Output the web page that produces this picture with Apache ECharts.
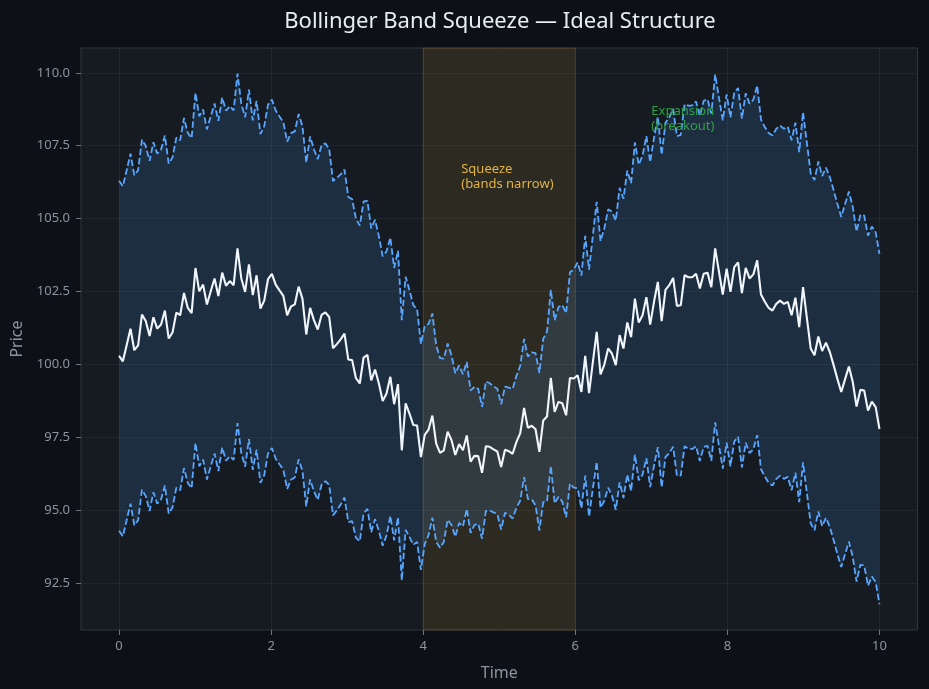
<!DOCTYPE html>
<html>
<head>
<meta charset="utf-8">
<title>Bollinger Band Squeeze</title>
<script src="https://cdn.jsdelivr.net/npm/echarts@6.0.0/dist/echarts.min.js"></script>
<style>
  html, body { margin: 0; padding: 0; background: #0d1117; }
  #main { width: 929px; height: 689px; }
</style>
</head>
<body>
<div id="main"></div>
<script>
// middle band (moving average / price), 200 samples over t = 0..10
var mid = [
  100.30, 100.11, 100.66, 101.23, 100.49, 100.66, 101.71, 101.49, 100.98, 101.62,
  101.23, 101.37, 101.85, 100.89, 101.10, 101.78, 101.69, 102.45, 101.94, 101.76,
  103.31, 102.51, 102.74, 102.06, 102.51, 102.95, 102.35, 103.15, 102.70, 102.86,
  102.72, 103.98, 102.95, 102.49, 103.43, 102.38, 103.06, 101.92, 102.19, 102.93,
  103.11, 102.74, 102.54, 102.35, 101.69, 101.99, 102.06, 102.67, 102.26, 101.03,
  101.94, 101.52, 101.20, 101.70, 101.79, 101.63, 100.56, 100.70, 100.86, 101.06,
  100.17, 100.15, 99.53, 99.35, 100.24, 100.33, 99.46, 99.83, 99.35, 98.75,
  99.01, 99.58, 98.64, 99.33, 97.06, 98.67, 98.32, 97.93, 97.91, 96.83,
  97.59, 97.77, 98.25, 97.29, 96.97, 97.06, 97.70, 97.41, 96.90, 97.27,
  97.06, 97.57, 96.67, 96.87, 96.86, 96.29, 97.20, 97.18, 97.09, 97.02,
  96.49, 97.08, 97.03, 96.94, 97.35, 97.65, 98.51, 97.83, 97.90, 97.78,
  97.01, 98.08, 98.22, 99.54, 98.38, 98.72, 98.67, 98.26, 99.54, 99.52,
  99.63, 99.06, 100.30, 99.02, 100.09, 101.12, 99.66, 100.00, 100.55, 100.37,
  99.98, 101.01, 100.55, 101.44, 100.94, 102.26, 101.44, 101.69, 102.31, 101.37,
  102.15, 102.83, 101.49, 102.56, 102.72, 102.97, 102.01, 102.03, 103.06, 102.99,
  102.99, 103.11, 102.61, 103.11, 103.15, 102.65, 103.98, 103.18, 102.40, 103.29,
  102.49, 103.34, 103.50, 102.45, 103.31, 102.95, 103.09, 103.57, 102.40, 102.15,
  101.94, 101.85, 102.08, 102.19, 102.08, 102.15, 101.69, 102.29, 101.28, 102.65,
  101.60, 100.55, 100.32, 100.96, 100.46, 100.75, 100.43, 99.98, 99.50, 99.06,
  99.50, 99.93, 99.41, 98.56, 99.13, 99.11, 98.42, 98.73, 98.54, 97.79
];

// distance from the middle line to each dashed band
var halfWidth = [
  6.00, 6.00, 6.00, 6.00, 6.00, 6.00, 6.00, 6.00, 6.00, 6.00,
  6.00, 6.00, 6.00, 6.00, 6.00, 6.00, 6.00, 6.00, 6.00, 6.00,
  6.00, 6.00, 6.00, 6.00, 6.00, 6.00, 6.00, 6.00, 6.00, 6.00,
  5.99, 5.99, 5.99, 5.99, 5.99, 5.99, 5.98, 5.98, 5.98, 5.98,
  5.97, 5.97, 5.96, 5.96, 5.95, 5.94, 5.93, 5.92, 5.91, 5.89,
  5.88, 5.86, 5.84, 5.82, 5.79, 5.76, 5.73, 5.70, 5.66, 5.62,
  5.57, 5.52, 5.47, 5.41, 5.35, 5.28, 5.21, 5.13, 5.05, 4.96,
  4.87, 4.77, 4.67, 4.57, 4.46, 4.34, 4.23, 4.11, 3.99, 3.87,
  3.74, 3.62, 3.50, 3.37, 3.25, 3.14, 3.02, 2.91, 2.80, 2.70,
  2.61, 2.52, 2.44, 2.37, 2.31, 2.26, 2.22, 2.18, 2.16, 2.15,
  2.15, 2.16, 2.18, 2.22, 2.26, 2.31, 2.37, 2.44, 2.52, 2.61,
  2.70, 2.80, 2.91, 3.02, 3.14, 3.25, 3.37, 3.50, 3.62, 3.74,
  3.87, 3.99, 4.11, 4.23, 4.34, 4.46, 4.57, 4.67, 4.77, 4.87,
  4.96, 5.05, 5.13, 5.21, 5.28, 5.35, 5.41, 5.47, 5.52, 5.57,
  5.62, 5.66, 5.70, 5.73, 5.76, 5.79, 5.82, 5.84, 5.86, 5.88,
  5.89, 5.91, 5.92, 5.93, 5.94, 5.95, 5.96, 5.96, 5.97, 5.97,
  5.98, 5.98, 5.98, 5.98, 5.99, 5.99, 5.99, 5.99, 5.99, 5.99,
  6.00, 6.00, 6.00, 6.00, 6.00, 6.00, 6.00, 6.00, 6.00, 6.00,
  6.00, 6.00, 6.00, 6.00, 6.00, 6.00, 6.00, 6.00, 6.00, 6.00,
  6.00, 6.00, 6.00, 6.00, 6.00, 6.00, 6.00, 6.00, 6.00, 6.00
];

var squeezeRange = [4, 6];
var xTicks = [0, 2, 4, 6, 8, 10];
var yTicks = [92.5, 95, 97.5, 100, 102.5, 105, 107.5, 110];

var TEXT = '#8b949e';
var BLUE = '#58a6ff';
var FONT = 'Noto Sans';

// time axis: 200 evenly spaced samples from 0 to 10
var times = mid.map(function (_, i) { return i * 10 / (mid.length - 1); });

var midData = [], upperData = [], lowerData = [];
for (var i = 0; i < mid.length; i++) {
  midData.push([times[i], mid[i]]);
  upperData.push([times[i], mid[i] + halfWidth[i]]);
  lowerData.push([times[i], mid[i] - halfWidth[i]]);
}

// filled band between upper and lower, drawn as one polygon through the axes
function renderBand(params, api) {
  var pts = [];
  for (var j = 0; j < upperData.length; j++) pts.push(api.coord(upperData[j]));
  for (var k = lowerData.length - 1; k >= 0; k--) pts.push(api.coord(lowerData[k]));
  return {
    type: 'polygon',
    shape: { points: pts },
    style: { fill: 'rgba(88,166,255,0.14)' },
    silent: true
  };
}

var chart = echarts.init(document.getElementById('main'), null, { renderer: 'canvas' });

var option = {
  backgroundColor: '#0d1117',
  animation: false,
  textStyle: { fontFamily: FONT },
  title: {
    text: 'Bollinger Band Squeeze \u2014 Ideal Structure',
    left: 495,
    top: 6,
    textAlign: 'center',
    textStyle: { color: '#e6edf3', fontSize: 22, fontWeight: 'normal', fontFamily: FONT }
  },
  grid: {
    left: 81, right: 11.5, top: 48, bottom: 59,
    show: true,
    backgroundColor: '#161b22',
    borderColor: '#30363d',
    borderWidth: 1
  },
  xAxis: {
    type: 'value',
    min: -0.5,
    max: 10.5,
    name: 'Time',
    nameLocation: 'middle',
    nameGap: 35,
    nameTextStyle: { color: TEXT, fontSize: 16, fontFamily: FONT },
    axisLine: { show: false, onZero: false },
    axisTick: { show: true, length: 5, customValues: xTicks, lineStyle: { color: '#6e7681' } },
    axisLabel: { color: TEXT, fontSize: 13, margin: 10, customValues: xTicks, fontFamily: FONT },
    splitLine: { show: true, lineStyle: { color: 'rgba(255,255,255,0.05)', width: 1 } }
  },
  yAxis: {
    type: 'value',
    min: 90.9,
    max: 110.85,
    name: 'Price',
    nameLocation: 'middle',
    nameGap: 52,
    nameTextStyle: { color: TEXT, fontSize: 16, fontFamily: FONT },
    axisLine: { show: false, onZero: false },
    axisTick: { show: true, length: 5, customValues: yTicks, lineStyle: { color: '#6e7681' } },
    axisLabel: {
      color: TEXT, fontSize: 13, margin: 11, customValues: yTicks, fontFamily: FONT,
      formatter: function (v) { return v.toFixed(1); }
    },
    splitLine: { show: true, lineStyle: { color: 'rgba(255,255,255,0.05)', width: 1 } }
  },
  series: [
    {
      name: 'bandFill',
      type: 'custom',
      renderItem: renderBand,
      data: [0],
      silent: true,
      z: 3,
      markArea: {
        silent: true,
        z: 1,
        itemStyle: {
          color: 'rgba(210,153,34,0.12)',
          borderColor: 'rgba(210,153,34,0.2)',
          borderWidth: 1
        },
        data: [[{ xAxis: squeezeRange[0] }, { xAxis: squeezeRange[1] }]]
      },
      markPoint: {
        symbol: 'circle',
        symbolSize: 0,
        silent: true,
        label: {
          show: true,
          position: [0, 0],
          align: 'left',
          verticalAlign: 'bottom',
          fontSize: 13,
          lineHeight: 15.5,
          fontFamily: FONT
        },
        data: [
          {
            coord: [4.5, 105.9],
            value: 1,
            label: { color: '#e3b341', formatter: 'Squeeze\n(bands narrow)' }
          },
          {
            coord: [7, 107.9],
            value: 1,
            label: { color: '#2ea043', formatter: 'Expansion\n(breakout)' }
          }
        ]
      }
    },
    {
      name: 'Upper',
      type: 'line',
      data: upperData,
      showSymbol: false,
      z: 4,
      lineStyle: { color: BLUE, width: 1.8, type: [6.5, 2.8] }
    },
    {
      name: 'Lower',
      type: 'line',
      data: lowerData,
      showSymbol: false,
      z: 4,
      lineStyle: { color: BLUE, width: 1.8, type: [6.5, 2.8] }
    },
    {
      name: 'Middle',
      type: 'line',
      data: midData,
      showSymbol: false,
      z: 5,
      lineStyle: { color: '#f0f6fc', width: 2.1 }
    }
  ]
};

chart.setOption(option);
</script>
</body>
</html>
